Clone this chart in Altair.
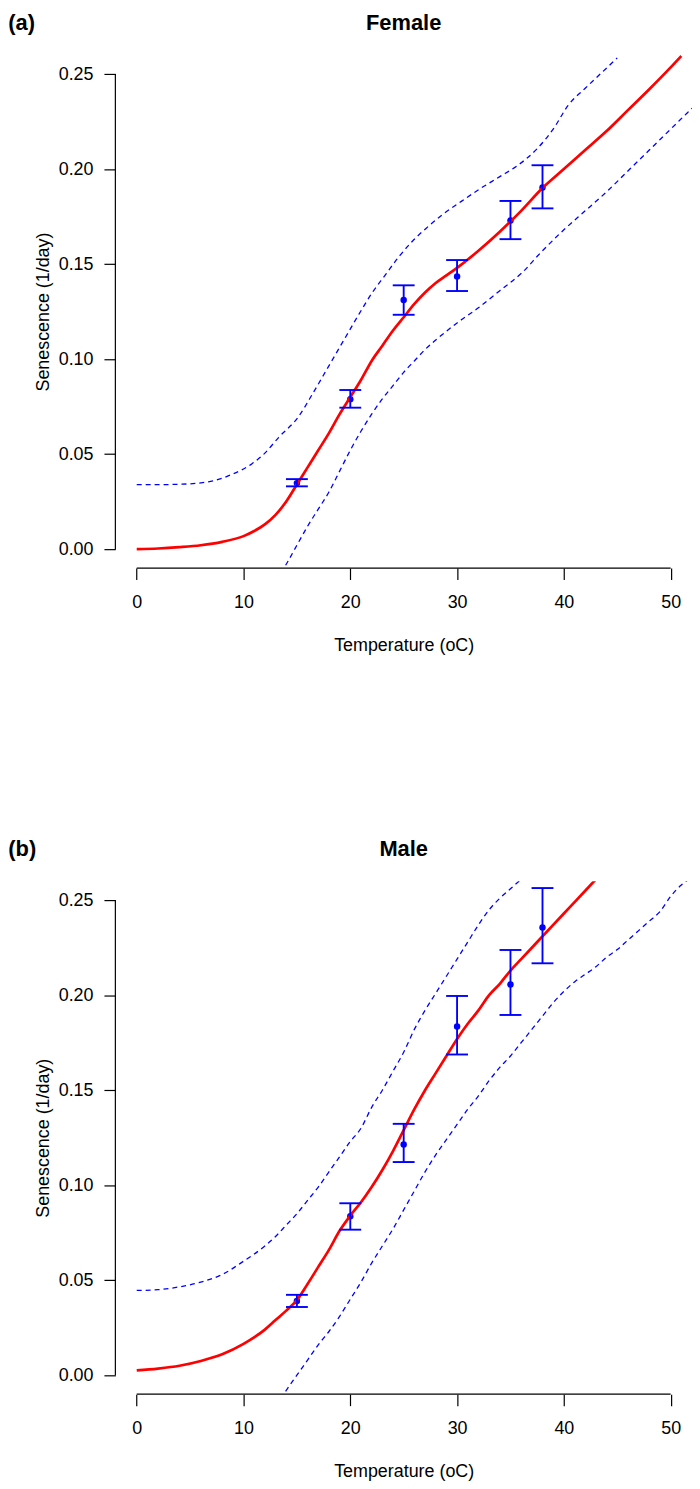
import altair as alt
import pandas as pd

# ---------------- data ----------------
temps_obs = [15, 20, 25, 30, 35, 38]

# Female (a)
f_mean = [0.0347, 0.0789, 0.1311, 0.1435, 0.1729, 0.1903]
f_lo = [0.0330, 0.0744, 0.1233, 0.1358, 0.1631, 0.1793]
f_hi = [0.0368, 0.0837, 0.1388, 0.1521, 0.1832, 0.2020]

f_fit_t = [0, 2, 4, 6, 8, 10, 11, 12, 13, 14, 15, 16, 17, 18, 19, 20, 21, 22, 23, 24, 25,
           26, 27, 28, 29, 30, 32, 34, 36, 38, 40, 42, 44, 46, 48, 50, 51]
f_fit_v = [0.0, 0.0003, 0.001, 0.002, 0.0038, 0.0068, 0.0095, 0.013, 0.018, 0.025, 0.034,
           0.043, 0.052, 0.061, 0.071, 0.080, 0.089, 0.099, 0.107, 0.115, 0.122, 0.129,
           0.135, 0.140, 0.144, 0.148, 0.157, 0.167, 0.178, 0.190, 0.200, 0.210, 0.220,
           0.231, 0.242, 0.2535, 0.2595]

f_up_t = [0, 2, 4, 6, 7.3, 9, 10.8, 12, 13.3, 15.1, 16.5, 17.9, 19.4, 20.8, 22, 23.3, 24.5,
          25.8, 27.2, 28.6, 30.4, 32.2, 34, 35.7, 37.5, 39, 40.4, 42, 43.5, 45]
f_up_v = [0.0339, 0.0339, 0.0341, 0.0348, 0.0361, 0.0395, 0.0449, 0.0505, 0.0588, 0.0693,
          0.0820, 0.0955, 0.1100, 0.1235, 0.1345, 0.1444, 0.1535, 0.1619, 0.1693, 0.1759,
          0.1830, 0.1898, 0.1960, 0.2020, 0.2107, 0.2210, 0.2335, 0.2425, 0.2505, 0.2585]

f_low_t = [13.5, 14, 15, 16, 17, 18, 19, 20, 21, 22, 23, 24, 25, 26, 27, 28, 30, 32, 34,
           36, 38, 40, 42, 44, 46, 48, 50, 52]
f_low_v = [-0.0125, -0.008, 0.002, 0.012, 0.021, 0.030, 0.041, 0.052, 0.062, 0.071, 0.079,
           0.086, 0.093, 0.099, 0.105, 0.110, 0.119, 0.127, 0.136, 0.145, 0.157, 0.168,
           0.178, 0.188, 0.199, 0.210, 0.221, 0.232]

# Male (b)
m_mean = [0.0391, 0.0837, 0.1214, 0.1835, 0.2057, 0.2356]
m_lo = [0.0359, 0.0766, 0.1122, 0.1688, 0.1896, 0.2168]
m_hi = [0.0423, 0.0905, 0.1323, 0.1996, 0.2238, 0.2564]

m_fit_t = [0, 2, 4, 6, 8, 10, 12, 13, 14, 15, 16, 17, 18, 19, 20, 21, 22, 23, 24, 25, 26,
           27, 28, 29, 30, 31, 32, 33, 34, 35, 36, 37, 38, 39, 40, 41, 42, 43]
m_fit_v = [0.0025, 0.0035, 0.005, 0.0075, 0.011, 0.0165, 0.024, 0.029, 0.034, 0.0395,
           0.048, 0.057, 0.066, 0.076, 0.084, 0.091, 0.099, 0.108, 0.118, 0.129, 0.140,
           0.150, 0.159, 0.168, 0.177, 0.185, 0.192, 0.200, 0.206, 0.213, 0.219, 0.225,
           0.231, 0.237, 0.243, 0.249, 0.255, 0.261]

m_up_t = [0, 2, 4, 6, 8, 10, 12, 13, 14, 15, 16, 17, 18, 19, 20, 21, 22, 23, 24, 25, 26,
          27, 28, 29, 30, 31, 32, 33, 34, 35, 36]
m_up_v = [0.0446, 0.0450, 0.0465, 0.0490, 0.0530, 0.0600, 0.0680, 0.0730, 0.0790, 0.0850,
          0.0920, 0.0990, 0.1070, 0.1150, 0.1230, 0.1300, 0.1410, 0.1500, 0.1600, 0.1700,
          0.1820, 0.1920, 0.2010, 0.2100, 0.2190, 0.2280, 0.2370, 0.2450, 0.2510, 0.2560,
          0.2610]

m_low_t = [13.5, 14, 15, 16, 17, 18, 19, 20, 21, 22, 23, 24, 25, 26, 27, 28, 29, 30, 31,
           32, 33, 34, 35, 36, 37, 38, 39, 40, 41, 42, 43, 44, 45, 46, 47, 48, 49, 50, 51, 52]
m_low_v = [-0.0125, -0.008, 0.000, 0.008, 0.016, 0.023, 0.031, 0.040, 0.049, 0.059, 0.068,
           0.077, 0.087, 0.097, 0.107, 0.116, 0.124, 0.132, 0.140, 0.147, 0.155, 0.162,
           0.168, 0.175, 0.182, 0.189, 0.196, 0.202, 0.207, 0.211, 0.215, 0.220, 0.224,
           0.229, 0.234, 0.239, 0.244, 0.252, 0.258, 0.262]

x_ticks = [0, 10, 20, 30, 40, 50]
y_ticks = [0.0, 0.05, 0.10, 0.15, 0.20, 0.25]

# ---------------- layout ----------------
W = 580
H = 516
FONT = "Liberation Sans"
BLUE = "#0000FF"
RED = "#FF0000"

xs = alt.Scale(domain=[-2, 52], nice=False, zero=False)
ys = alt.Scale(domain=[-0.01, 0.26], nice=False, zero=False)

x_axis = alt.Axis(values=x_ticks, format="d", title="Temperature (oC)", domain=False,
                  grid=False, tickSize=11.5, tickWidth=1.2, tickColor="black",
                  labelPadding=14, labelFontSize=18, labelFont=FONT, labelColor="black",
                  titleFont=FONT, titleFontSize=18, titleFontWeight="normal",
                  titleColor="black", titlePadding=25, labelOverlap=False,
                  labelFlush=False, labelBound=False)
y_axis = alt.Axis(values=y_ticks, format=".2f", title="Senescence (1/day)", domain=False,
                  grid=False, tickSize=11.5, tickWidth=1.2, tickColor="black",
                  labelPadding=11, labelFontSize=18, labelFont=FONT, labelColor="black",
                  titleFont=FONT, titleFontSize=18, titleFontWeight="normal",
                  titleColor="black", titlePadding=6, labelOverlap=False,
                  labelFlush=False, labelBound=False)


def X(field):
    return alt.X(field, type="quantitative", scale=xs, axis=x_axis)


def Y(field):
    return alt.Y(field, type="quantitative", scale=ys, axis=y_axis)


def panel(tag, name, mean, lo, hi, fit_t, fit_v, up_t, up_v, low_t, low_v):
    obs = pd.DataFrame({"T": temps_obs, "v": mean, "lo": lo, "hi": hi})

    pts = alt.Chart(obs).mark_circle(color=BLUE, size=42, opacity=1).encode(
        x=X("T"), y=Y("v"))
    bars = alt.Chart(obs).mark_rule(color=BLUE, strokeWidth=1.9).encode(
        x=X("T"), y=Y("lo"), y2="hi")
    cap_lo = alt.Chart(obs).mark_tick(color=BLUE, size=22, thickness=1.9,
                                      orient="horizontal", opacity=1).encode(
        x=X("T"), y=Y("lo"))
    cap_hi = alt.Chart(obs).mark_tick(color=BLUE, size=22, thickness=1.9,
                                      orient="horizontal", opacity=1).encode(
        x=X("T"), y=Y("hi"))

    def line(t, v, **kw):
        return alt.Chart(pd.DataFrame({"T": t, "v": v})).mark_line(clip=True, **kw).encode(
            x=X("T"), y=Y("v"))

    fit = line(fit_t, fit_v, color=RED, strokeWidth=2.7, interpolate="monotone")
    up = line(up_t, up_v, color=BLUE, strokeWidth=1.3, strokeDash=[5, 4],
              interpolate="monotone")
    low = line(low_t, low_v, color=BLUE, strokeWidth=1.3, strokeDash=[5, 4],
               interpolate="monotone")

    axis_df = pd.DataFrame({"x0": [0], "x1": [50], "y0": [0.0], "y1": [0.25]})
    xline = alt.Chart(axis_df).mark_rule(color="black", strokeWidth=1.2).encode(
        x=X("x0"), x2="x1", y=alt.value(H))
    yline = alt.Chart(axis_df).mark_rule(color="black", strokeWidth=1.2).encode(
        y=Y("y0"), y2="y1", x=alt.value(0))

    lab = pd.DataFrame({"s": [0]})
    tag_txt = alt.Chart(lab).mark_text(text=tag, font=FONT, fontSize=22, fontWeight="bold",
                                       align="left", baseline="middle", color="black").encode(
        x=alt.value(-107.7), y=alt.value(-32))
    name_txt = alt.Chart(lab).mark_text(text=name, font=FONT, fontSize=22, fontWeight="bold",
                                        align="center", baseline="middle", color="black").encode(
        x=alt.value(W / 2), y=alt.value(-32))

    return alt.layer(pts, low, up, fit, bars, cap_lo, cap_hi, xline, yline,
                     tag_txt, name_txt).properties(width=W, height=H)


pa = panel("(a)", "Female", f_mean, f_lo, f_hi, f_fit_t, f_fit_v, f_up_t, f_up_v,
           f_low_t, f_low_v)
pb = panel("(b)", "Male", m_mean, m_lo, m_hi, m_fit_t, m_fit_v, m_up_t, m_up_v,
           m_low_t, m_low_v)

chart = alt.vconcat(pa, pb, spacing=315, bounds="flush").properties(
    padding=0, background="white"
).configure_view(stroke=None)

chart.save("out.html", embed_options={"renderer": "svg", "actions": False})
